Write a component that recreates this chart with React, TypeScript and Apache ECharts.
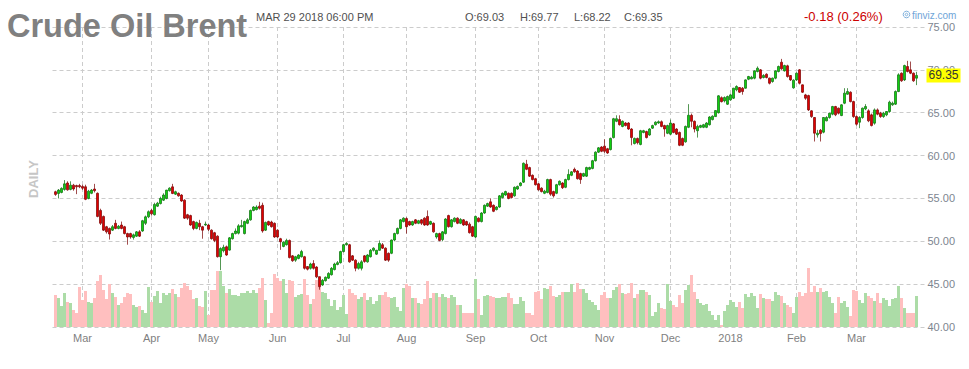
import React, { useEffect, useRef } from "react";
import * as echarts from "echarts";

// ---- calendar (ICE Brent trading days, Feb 16 2017 .. Mar 29 2018) ----
const firstDay = "2017-02-16";
const lastDay = "2018-03-29";
const holidays = ["2017-04-14", "2017-12-25", "2018-01-01"];

function tradingDays(): string[] {
  const out: string[] = [];
  const d = new Date(firstDay + "T00:00:00Z");
  const end = new Date(lastDay + "T00:00:00Z");
  while (d.getTime() <= end.getTime()) {
    const wd = d.getUTCDay();
    const s = d.toISOString().slice(0, 10);
    if (wd !== 0 && wd !== 6 && holidays.indexOf(s) < 0) out.push(s);
    d.setUTCDate(d.getUTCDate() + 1);
  }
  return out;
}
const dates = tradingDays();

// ---- month tick labels ----
const monthTickDates = ["2017-03-01", "2017-04-03", "2017-05-01", "2017-06-01", "2017-07-03", "2017-08-01", "2017-09-01", "2017-10-02", "2017-11-01", "2017-12-01", "2018-01-02", "2018-02-01", "2018-03-01"];
const monthTickLabels = ["Mar", "Apr", "May", "Jun", "Jul", "Aug", "Sep", "Oct", "Nov", "Dec", "2018", "Feb", "Mar"];

// ---- OHLC ----
const opens = [
  55.78, 55.58, 55.7, 56.05, 56.8, 56.05, 56.55, 56.5, 56.5,
  56.4, 56.36, 55.0, 55.6, 56.1, 55.6, 53.6, 52.9, 51.7, 51.5, 51.3, 52.1, 51.5, 51.9, 51.7, 50.9, 50.9, 50.45, 50.6, 51.1, 51.2, 52.1, 52.85,
  53.6, 53.1, 54.1, 54.4, 54.8, 55.0, 55.9, 56.35, 55.5, 55.6, 55.4, 54.8, 53.1, 53.0, 52.3, 51.5, 52.1, 51.7, 51.9,
  51.9, 51.3, 51.0, 50.6, 48.2, 48.9, 49.36, 48.97, 50.3, 50.9, 50.95, 51.7, 50.9, 52.1, 52.5, 53.6, 53.7, 54.1, 54.2, 51.3, 52.3, 52.25, 52.1,
  51.3, 50.3, 49.4, 49.6, 50.1, 48.3, 47.8, 48.0, 48.2, 48.2, 47.05, 46.85, 47.4, 47.0, 45.87, 44.9, 45.4, 45.7, 46.1, 46.7, 47.3, 47.5,
  48.8, 49.6, 49.6, 48.3, 47.8, 46.85, 46.85, 48.3, 47.6, 48.2, 48.95, 48.5, 48.95, 49.6, 49.2, 48.6, 48.6, 50.15, 50.9, 51.5, 52.3,
  52.65, 52.3, 51.9, 52.5, 52.1, 52.5, 52.7, 52.9, 52.0, 52.1, 50.5, 50.9, 50.2, 50.9, 53.0, 51.7, 52.3, 52.7, 52.1, 52.5, 52.3, 52.0, 51.7,
  50.5, 52.7, 52.3, 53.3, 54.1, 54.6, 54.2, 53.7, 54.0, 55.1, 55.4, 55.6, 55.6, 55.3, 56.1, 56.5, 56.9, 59.0, 58.6, 57.7, 57.3,
  56.7, 56.2, 55.6, 55.7, 57.2, 55.8, 55.6, 56.6, 56.8, 56.3, 57.2, 57.7, 58.4, 58.2, 57.9, 57.6, 57.6, 58.4, 58.5, 59.4, 60.4, 61.0,
  61.1, 60.8, 60.7, 62.1, 64.0, 64.2, 63.4, 63.8, 63.8, 63.1, 61.4, 62.0, 61.3, 62.7, 62.8, 62.4, 63.2, 63.6, 63.8, 63.95, 63.5, 62.6,
  62.5, 63.7, 63.1, 62.7, 62.0, 61.6, 63.3, 64.7, 64.0, 62.9, 63.3, 63.3, 63.3, 63.6, 64.2, 64.55, 65.0, 66.76, 66.38, 65.99,
  66.5, 66.69, 67.67, 67.94, 67.86, 67.86, 68.91, 68.95, 69.03, 69.81, 70.0, 69.11, 69.49, 69.03, 68.64, 69.03, 69.81, 70.89, 69.88, 70.47, 69.34, 67.9,
  68.83, 70.0, 68.25, 67.08, 67.0, 65.22, 64.44, 62.42, 62.96, 62.73, 64.05, 64.44, 64.83, 65.72, 65.53, 64.67, 66.11, 67.16, 67.39, 66.3,
  64.55, 63.89, 64.44, 65.45, 65.22, 64.75, 63.78, 65.33, 64.94, 64.55, 64.75, 65.14, 65.92, 66.0, 67.47, 69.61, 68.83, 70.39, 70.0, 69.61, 69.03,
];
const highs = [
  55.9, 56.1, 56.3, 57.14, 57.0, 57.0, 56.7, 56.6, 56.7,
  56.6, 56.6, 56.0, 56.1, 56.7, 55.7, 53.8, 53.0, 51.8, 51.6, 51.9, 52.5, 51.9, 52.3, 51.8, 51.0, 51.0, 50.9, 51.2, 51.3, 52.5, 53.0, 53.6,
  53.8, 54.5, 54.6, 55.2, 55.6, 56.0, 56.3, 56.7, 55.9, 55.7, 55.5, 54.9, 53.2, 53.1, 52.4, 52.3, 52.5, 51.8, 52.3,
  52.0, 51.4, 51.1, 50.7, 49.3, 49.6, 49.5, 50.5, 51.0, 51.5, 52.0, 52.5, 52.4, 52.7, 53.7, 54.1, 54.2, 54.6, 54.5, 52.3, 52.4, 52.4, 52.2,
  51.4, 50.4, 50.0, 50.3, 50.2, 48.4, 48.3, 48.5, 49.0, 48.3, 47.1, 47.5, 47.8, 47.1, 45.9, 45.6, 45.9, 46.4, 47.0, 47.5, 47.7, 48.9,
  49.7, 49.9, 49.7, 48.4, 47.9, 47.6, 47.8, 48.4, 48.5, 49.1, 49.3, 49.0, 50.1, 49.8, 49.3, 48.7, 50.2, 51.0, 51.6, 52.6, 52.8,
  52.8, 52.4, 52.4, 52.6, 52.5, 52.6, 52.8, 53.6, 52.4, 52.2, 51.0, 51.0, 51.2, 52.7, 53.1, 52.6, 52.8, 52.8, 52.7, 52.6, 52.4, 52.2, 51.8,
  53.0, 52.8, 53.4, 54.3, 54.5, 55.0, 54.3, 54.1, 55.4, 55.7, 55.9, 55.7, 55.7, 56.4, 56.5, 56.9, 59.2, 59.5, 58.7, 57.8, 57.4,
  56.8, 56.3, 56.0, 57.3, 57.3, 55.9, 56.7, 57.1, 56.9, 57.3, 58.4, 58.2, 58.6, 58.3, 58.0, 58.0, 58.7, 58.7, 59.5, 60.5, 61.0, 61.1,
  61.9, 60.9, 62.1, 64.4, 64.7, 64.7, 64.1, 63.9, 63.9, 63.2, 62.1, 62.1, 63.0, 63.0, 62.9, 63.2, 63.6, 64.0, 64.1, 64.1, 63.6, 63.6,
  64.2, 63.8, 63.2, 62.8, 62.1, 63.5, 66.0, 64.9, 64.1, 63.6, 63.6, 63.7, 63.9, 64.6, 64.7, 65.3, 67.05, 66.9, 66.9, 67.0,
  67.2, 67.9, 68.2, 68.0, 68.0, 68.9, 69.3, 69.3, 69.95, 70.4, 70.1, 69.5, 69.6, 69.1, 69.1, 69.95, 70.5, 71.28, 70.6, 70.6, 69.4, 68.9,
  69.7, 70.1, 68.3, 67.2, 67.1, 65.3, 64.5, 63.0, 63.1, 64.5, 64.6, 65.0, 65.8, 65.8, 65.6, 66.0, 67.86, 67.86, 67.5, 66.4,
  64.7, 64.6, 65.6, 66.0, 65.4, 64.9, 65.5, 65.5, 65.1, 65.1, 65.2, 66.4, 66.3, 67.6, 69.6, 69.7, 70.6, 71.05, 70.97, 69.7, 69.77,
];
const lows = [
  55.3, 55.0, 55.6, 55.9, 55.9, 55.95, 55.9, 55.5, 56.2,
  56.0, 54.8, 54.9, 55.5, 55.7, 52.8, 51.9, 51.2, 50.9, 50.2, 51.2, 51.4, 51.4, 51.4, 50.8, 49.6, 50.3, 50.2, 50.5, 50.5, 51.1, 51.9, 52.7,
  53.0, 53.0, 54.0, 54.3, 54.7, 54.9, 55.8, 55.5, 55.4, 55.2, 54.6, 52.6, 52.5, 51.8, 51.3, 51.4, 51.3, 50.3, 51.8,
  51.2, 50.2, 49.9, 48.1, 46.63, 48.7, 48.3, 48.9, 50.2, 50.8, 50.8, 51.6, 50.8, 52.0, 52.4, 53.5, 53.6, 53.7, 51.0, 51.2, 51.8, 51.6, 50.4,
  50.4, 49.0, 49.3, 49.5, 48.0, 47.6, 47.6, 47.9, 48.1, 46.7, 46.6, 46.7, 46.7, 45.7, 44.35, 44.8, 45.3, 45.6, 46.0, 46.6, 47.2, 47.4,
  48.7, 49.5, 47.5, 47.7, 46.5, 46.7, 46.6, 47.5, 47.5, 48.1, 48.8, 48.4, 48.9, 49.1, 47.7, 47.6, 48.5, 50.0, 50.8, 51.4, 52.2,
  50.9, 51.8, 51.8, 52.0, 52.0, 51.9, 51.8, 51.8, 51.9, 51.0, 50.3, 50.0, 50.0, 50.8, 51.6, 51.6, 52.2, 52.0, 52.0, 51.8, 51.8, 50.9, 50.5,
  50.4, 52.2, 52.2, 53.2, 54.0, 53.9, 53.4, 53.6, 53.9, 55.0, 55.3, 54.9, 55.0, 55.2, 56.0, 56.4, 56.8, 58.3, 57.5, 57.1, 56.5,
  55.9, 55.7, 55.5, 55.6, 55.3, 55.1, 55.5, 56.5, 56.1, 56.2, 57.1, 57.6, 58.0, 57.2, 56.7, 57.5, 57.5, 58.3, 58.4, 59.3, 60.3, 60.4,
  60.3, 60.2, 60.6, 62.0, 63.9, 63.5, 63.3, 63.4, 63.0, 61.2, 61.3, 61.3, 61.2, 62.6, 62.0, 62.3, 63.1, 63.5, 63.7, 63.3, 62.2, 62.5,
  62.4, 62.6, 62.4, 61.1, 61.1, 61.5, 63.2, 63.3, 62.7, 62.1, 63.2, 63.2, 63.2, 63.5, 64.1, 64.5, 64.9, 66.2, 66.2, 65.9,
  66.4, 66.6, 67.5, 67.3, 67.1, 67.8, 68.8, 68.9, 68.9, 69.7, 68.9, 69.0, 69.0, 68.3, 68.5, 68.9, 69.7, 70.0, 69.8, 69.1, 68.7, 67.8,
  68.7, 68.3, 67.3, 66.5, 65.2, 64.4, 61.64, 62.1, 61.64, 62.6, 64.0, 64.3, 64.7, 64.6, 64.8, 64.6, 66.0, 67.1, 66.2, 64.4,
  63.5, 63.2, 64.3, 65.3, 63.9, 63.4, 63.6, 64.7, 64.4, 64.4, 64.6, 65.0, 65.8, 65.9, 67.4, 68.6, 68.7, 69.7, 69.5, 68.6, 68.22,
];
const closes = [
  55.47, 55.97, 56.17, 56.7, 56.0, 56.55, 56.1, 56.35, 56.36,
  56.2, 54.9, 55.85, 55.97, 55.9, 52.9, 52.1, 51.3, 51.1, 50.85, 51.7, 51.5, 51.75, 51.5, 50.9, 50.5, 50.5, 50.75, 51.1, 50.6, 52.4, 52.85, 53.45,
  53.2, 54.3, 54.45, 55.0, 55.4, 55.97, 56.2, 55.58, 55.78, 55.3, 54.7, 52.7, 52.7, 51.9, 51.5, 52.2, 51.7, 51.3, 52.0,
  51.4, 50.3, 50.1, 48.2, 49.15, 49.3, 48.4, 50.4, 50.9, 51.2, 51.8, 51.85, 52.3, 52.5, 53.6, 54.0, 54.0, 53.85, 51.2, 52.2, 51.9, 51.7, 50.5,
  50.5, 49.95, 49.9, 50.1, 48.1, 47.73, 48.2, 48.4, 48.8, 46.85, 46.75, 47.35, 46.85, 45.85, 44.7, 45.45, 45.8, 46.25, 46.84, 47.35, 47.5, 48.8,
  49.6, 49.75, 47.6, 47.8, 46.85, 47.4, 47.6, 47.65, 48.4, 48.95, 49.2, 48.95, 49.75, 49.2, 47.8, 47.8, 50.15, 50.9, 51.5, 52.5, 52.7,
  51.7, 51.9, 52.3, 52.1, 52.4, 52.1, 51.9, 51.9, 52.3, 51.1, 50.9, 50.1, 51.1, 52.6, 51.7, 52.5, 52.7, 52.1, 52.55, 51.9, 51.9, 51.0, 50.6,
  52.9, 52.3, 53.3, 54.2, 54.4, 54.0, 53.5, 54.0, 55.3, 55.6, 55.8, 55.0, 55.1, 56.3, 56.4, 56.8, 59.1, 58.4, 57.6, 57.2, 56.6,
  56.0, 55.8, 55.85, 57.2, 55.5, 55.3, 56.6, 57.0, 56.25, 57.2, 57.8, 58.1, 58.1, 57.3, 57.2, 57.9, 58.6, 58.6, 59.4, 60.4, 60.9, 60.5,
  60.5, 60.3, 62.0, 64.3, 64.3, 63.6, 64.0, 63.5, 63.1, 62.1, 62.0, 61.5, 62.9, 62.9, 62.1, 63.1, 63.5, 63.9, 63.95, 63.4, 63.1, 63.5,
  63.8, 62.7, 62.5, 61.2, 61.2, 63.4, 64.7, 64.0, 63.1, 63.4, 63.5, 63.6, 63.8, 64.5, 64.6, 65.25, 66.97, 66.29, 66.77, 66.89,
  67.08, 67.86, 68.06, 67.39, 67.47, 68.83, 69.22, 69.14, 69.88, 70.19, 69.03, 69.34, 69.11, 68.44, 69.03, 69.88, 70.39, 70.12, 70.5, 69.22, 68.83, 68.8,
  69.61, 68.44, 67.39, 66.69, 65.33, 64.55, 62.61, 62.61, 62.57, 64.44, 64.44, 64.94, 65.72, 64.75, 64.94, 65.92, 67.28, 67.47, 66.3, 64.55,
  63.66, 64.44, 65.53, 65.72, 64.05, 63.5, 65.33, 64.83, 64.55, 64.94, 65.14, 66.23, 66.11, 67.47, 69.42, 68.72, 70.5, 69.81, 69.61, 68.72, 69.35,
];
// relative daily volume (arbitrary units)
const volumes = [
  32, 29, 21, 34, 25, 24, 17, 14, 40, 27, 36, 25, 24, 29, 46, 52, 37, 28, 43, 34,
  30, 22, 24, 30, 34, 33, 22, 20, 21, 17, 14, 40, 25, 31, 36, 24, 34, 32, 34, 38,
  33, 30, 39, 44, 41, 37, 28, 29, 21, 20, 36, 12, 37, 37, 56, 56, 41, 34, 38, 32,
  32, 31, 34, 34, 36, 34, 37, 34, 39, 49, 27, 4, 14, 53, 49, 46, 48,
  34, 47, 46, 30, 32, 33, 48, 32, 23, 28, 47, 40, 35, 34, 28, 21, 27, 17, 20, 32,
  13, 38, 34, 32, 28, 30, 34, 27, 30, 23, 26, 32, 32, 35, 30, 29, 30, 20, 16, 39,
  43, 41, 29, 29, 24, 23, 28, 46, 29, 34, 34, 30, 33, 30, 29, 32, 30, 22, 22, 14,
  14, 14, 14, 48, 28, 12, 31, 32, 31, 30, 29, 29, 30, 30, 34, 29, 23, 23, 30, 26, 14,
  14, 12, 35, 36, 28, 39, 38, 41, 31, 30, 32, 35, 35, 35, 43, 35, 44, 38, 38, 34,
  27, 25, 22, 17, 32, 35, 29, 29, 37, 40, 43, 34, 33, 34, 44, 29, 33, 37, 37, 35,
  32, 11, 15, 24, 19, 18, 43, 26, 22, 20, 32, 24, 37, 42, 52, 35, 28,
  24, 22, 23, 16, 12, 7, 12, 2, 16, 22, 27, 25, 20, 25, 19, 33, 30, 34, 31, 19,
  33, 29, 28, 28, 26, 35, 32, 31, 24, 22, 20, 14, 30, 35, 31, 34, 59, 35, 41, 35,
  39, 35, 36, 30, 24, 14, 30, 24, 26, 20, 11, 37, 36, 27, 24, 34, 31, 29, 26, 34,
  24, 29, 27, 21, 28, 29, 41, 29, 19, 14, 14, 14, 31,
];

// ---- header texts ----
const titleText = "Crude Oil Brent";
const stampText = "MAR 29 2018 06:00 PM";
const ohlcTexts = ["O:69.03", "H:69.77", "L:68.22", "C:69.35"];
const changeText = "-0.18 (0.26%)";

const FONT = '"Liberation Sans", Arial, Helvetica, sans-serif';
const UP = "#10d010", UP_EDGE = "#0a6a0a";
const DOWN = "#e00000", DOWN_EDGE = "#7a0000";
const VOL_UP = "#acdca7", VOL_DOWN = "#ffbfbf";
const GRID_LINE = "#cccccc";

export default function App() {
  const ref = useRef<HTMLDivElement>(null);
  useEffect(() => {
    if (!ref.current) return;
    const chart = echarts.init(ref.current, undefined, { renderer: "svg" });
    const categories = ["pad-0", ...dates, "pad-1", "pad-2", "pad-3"];
    const tickIdx = new Set(monthTickDates.map((d) => categories.indexOf(d)));
    const labelOf: Record<string, string> = {};
    monthTickDates.forEach((d, i) => (labelOf[d] = monthTickLabels[i]));
    const n = dates.length;
    const candleData = dates.map((_, i) => [i + 1, opens[i], closes[i], lows[i], highs[i]]);
    const volData = dates.map((_, i) => ({
      value: [i + 1, volumes[i]],
      itemStyle: { color: closes[i] >= opens[i] ? VOL_UP : VOL_DOWN },
    }));
    const lastClose = closes[n - 1];

    const ohlcX = [465, 520, 574, 624];
    const graphics: any[] = [
      { type: "text", x: 7, y: 25.5, z: 10, style: { text: titleText, font: `bold 32.5px ${FONT}`, fill: "#808080", textVerticalAlign: "middle", verticalAlign: "middle" } },
      { type: "text", x: 256, y: 17, z: 10, style: { text: stampText, font: `11px ${FONT}`, fill: "#505050", textVerticalAlign: "middle", verticalAlign: "middle" } },
      ...ohlcTexts.map((t, i) => ({ type: "text", x: ohlcX[i], y: 17, z: 10, style: { text: t, font: `11px ${FONT}`, fill: "#505050", textVerticalAlign: "middle", verticalAlign: "middle" } })),
      { type: "text", x: 804, y: 16.5, z: 10, style: { text: changeText, font: `13px ${FONT}`, fill: "#cc0000", textVerticalAlign: "middle", verticalAlign: "middle" } },
      { type: "circle", z: 10, shape: { cx: 906.5, cy: 14.5, r: 3.3 }, style: { fill: "none", stroke: "#7fb0dc", lineWidth: 1 } },
      { type: "circle", z: 10, shape: { cx: 906.5, cy: 14.5, r: 1.3 }, style: { fill: "none", stroke: "#7fb0dc", lineWidth: 1 } },
      { type: "text", x: 912, y: 15, z: 10, style: { text: "finviz.com", font: `10px ${FONT}`, fill: "#6fa5d8", textVerticalAlign: "middle", verticalAlign: "middle" } },
      { type: "text", x: 33, y: 179, rotation: Math.PI / 2, z: 10, style: { text: "DAILY", font: `bold 13px ${FONT}`, fill: "#c6c6c6", textAlign: "center", align: "center", textVerticalAlign: "middle", verticalAlign: "middle" } },
    ];

    chart.setOption({
      animation: false,
      backgroundColor: "#ffffff",
      textStyle: { fontFamily: FONT },
      grid: { left: 52.5, right: 43.5, top: 27, bottom: 42, containLabel: false },
      xAxis: {
        type: "category",
        data: categories,
        boundaryGap: false,
        axisLine: { show: false },
        axisTick: { show: false },
        axisLabel: {
          interval: (i: number) => tickIdx.has(i),
          formatter: (v: string) => labelOf[v] || "",
          color: "#7f7f7f",
          fontSize: 11,
          margin: 5,
        },
        splitLine: {
          show: true,
          interval: (i: number) => tickIdx.has(i),
          lineStyle: { color: GRID_LINE, type: [4, 3], width: 1 },
        },
      },
      yAxis: [
        {
          type: "value",
          position: "right",
          min: 40,
          max: 75,
          interval: 5,
          axisLine: { show: false },
          axisTick: { show: false },
          axisLabel: { formatter: (v: number) => v.toFixed(2), color: "#7d8590", fontSize: 11, margin: 2 },
          splitLine: { show: true, lineStyle: { color: GRID_LINE, type: [4, 3], width: 1 } },
        },
        { type: "value", min: 0, max: 300, show: false },
      ],
      series: [
        {
          name: "Volume",
          type: "bar",
          xAxisIndex: 0,
          yAxisIndex: 1,
          data: volData,
          barWidth: 3,
          z: 1,
          silent: true,
        },
        {
          name: "Brent",
          type: "candlestick",
          xAxisIndex: 0,
          yAxisIndex: 0,
          data: candleData,
          encode: { x: 0, y: [1, 2, 3, 4] },
          barWidth: 3,
          z: 3,
          itemStyle: { color: UP, color0: DOWN, borderColor: UP_EDGE, borderColor0: DOWN_EDGE, borderWidth: 0.7 },
          markLine: {
            silent: true,
            symbol: "none",
            lineStyle: { color: "rgba(0,0,0,0)", width: 0 },
            label: {
              show: true,
              position: "end",
              distance: 1,
              formatter: () => lastClose.toFixed(2),
              backgroundColor: "#ffff00",
              color: "#333333",
              fontSize: 12,
              opacity: 1,
              padding: [1, 2, 1, 2],
            },
            data: [{ yAxis: lastClose }],
          },
        },
      ],
      graphic: graphics,
    });
    return () => chart.dispose();
  }, []);
  return <div ref={ref} style={{ position: "fixed", left: 0, top: 0, width: 969, height: 369, background: "#fff" }} />;
}
